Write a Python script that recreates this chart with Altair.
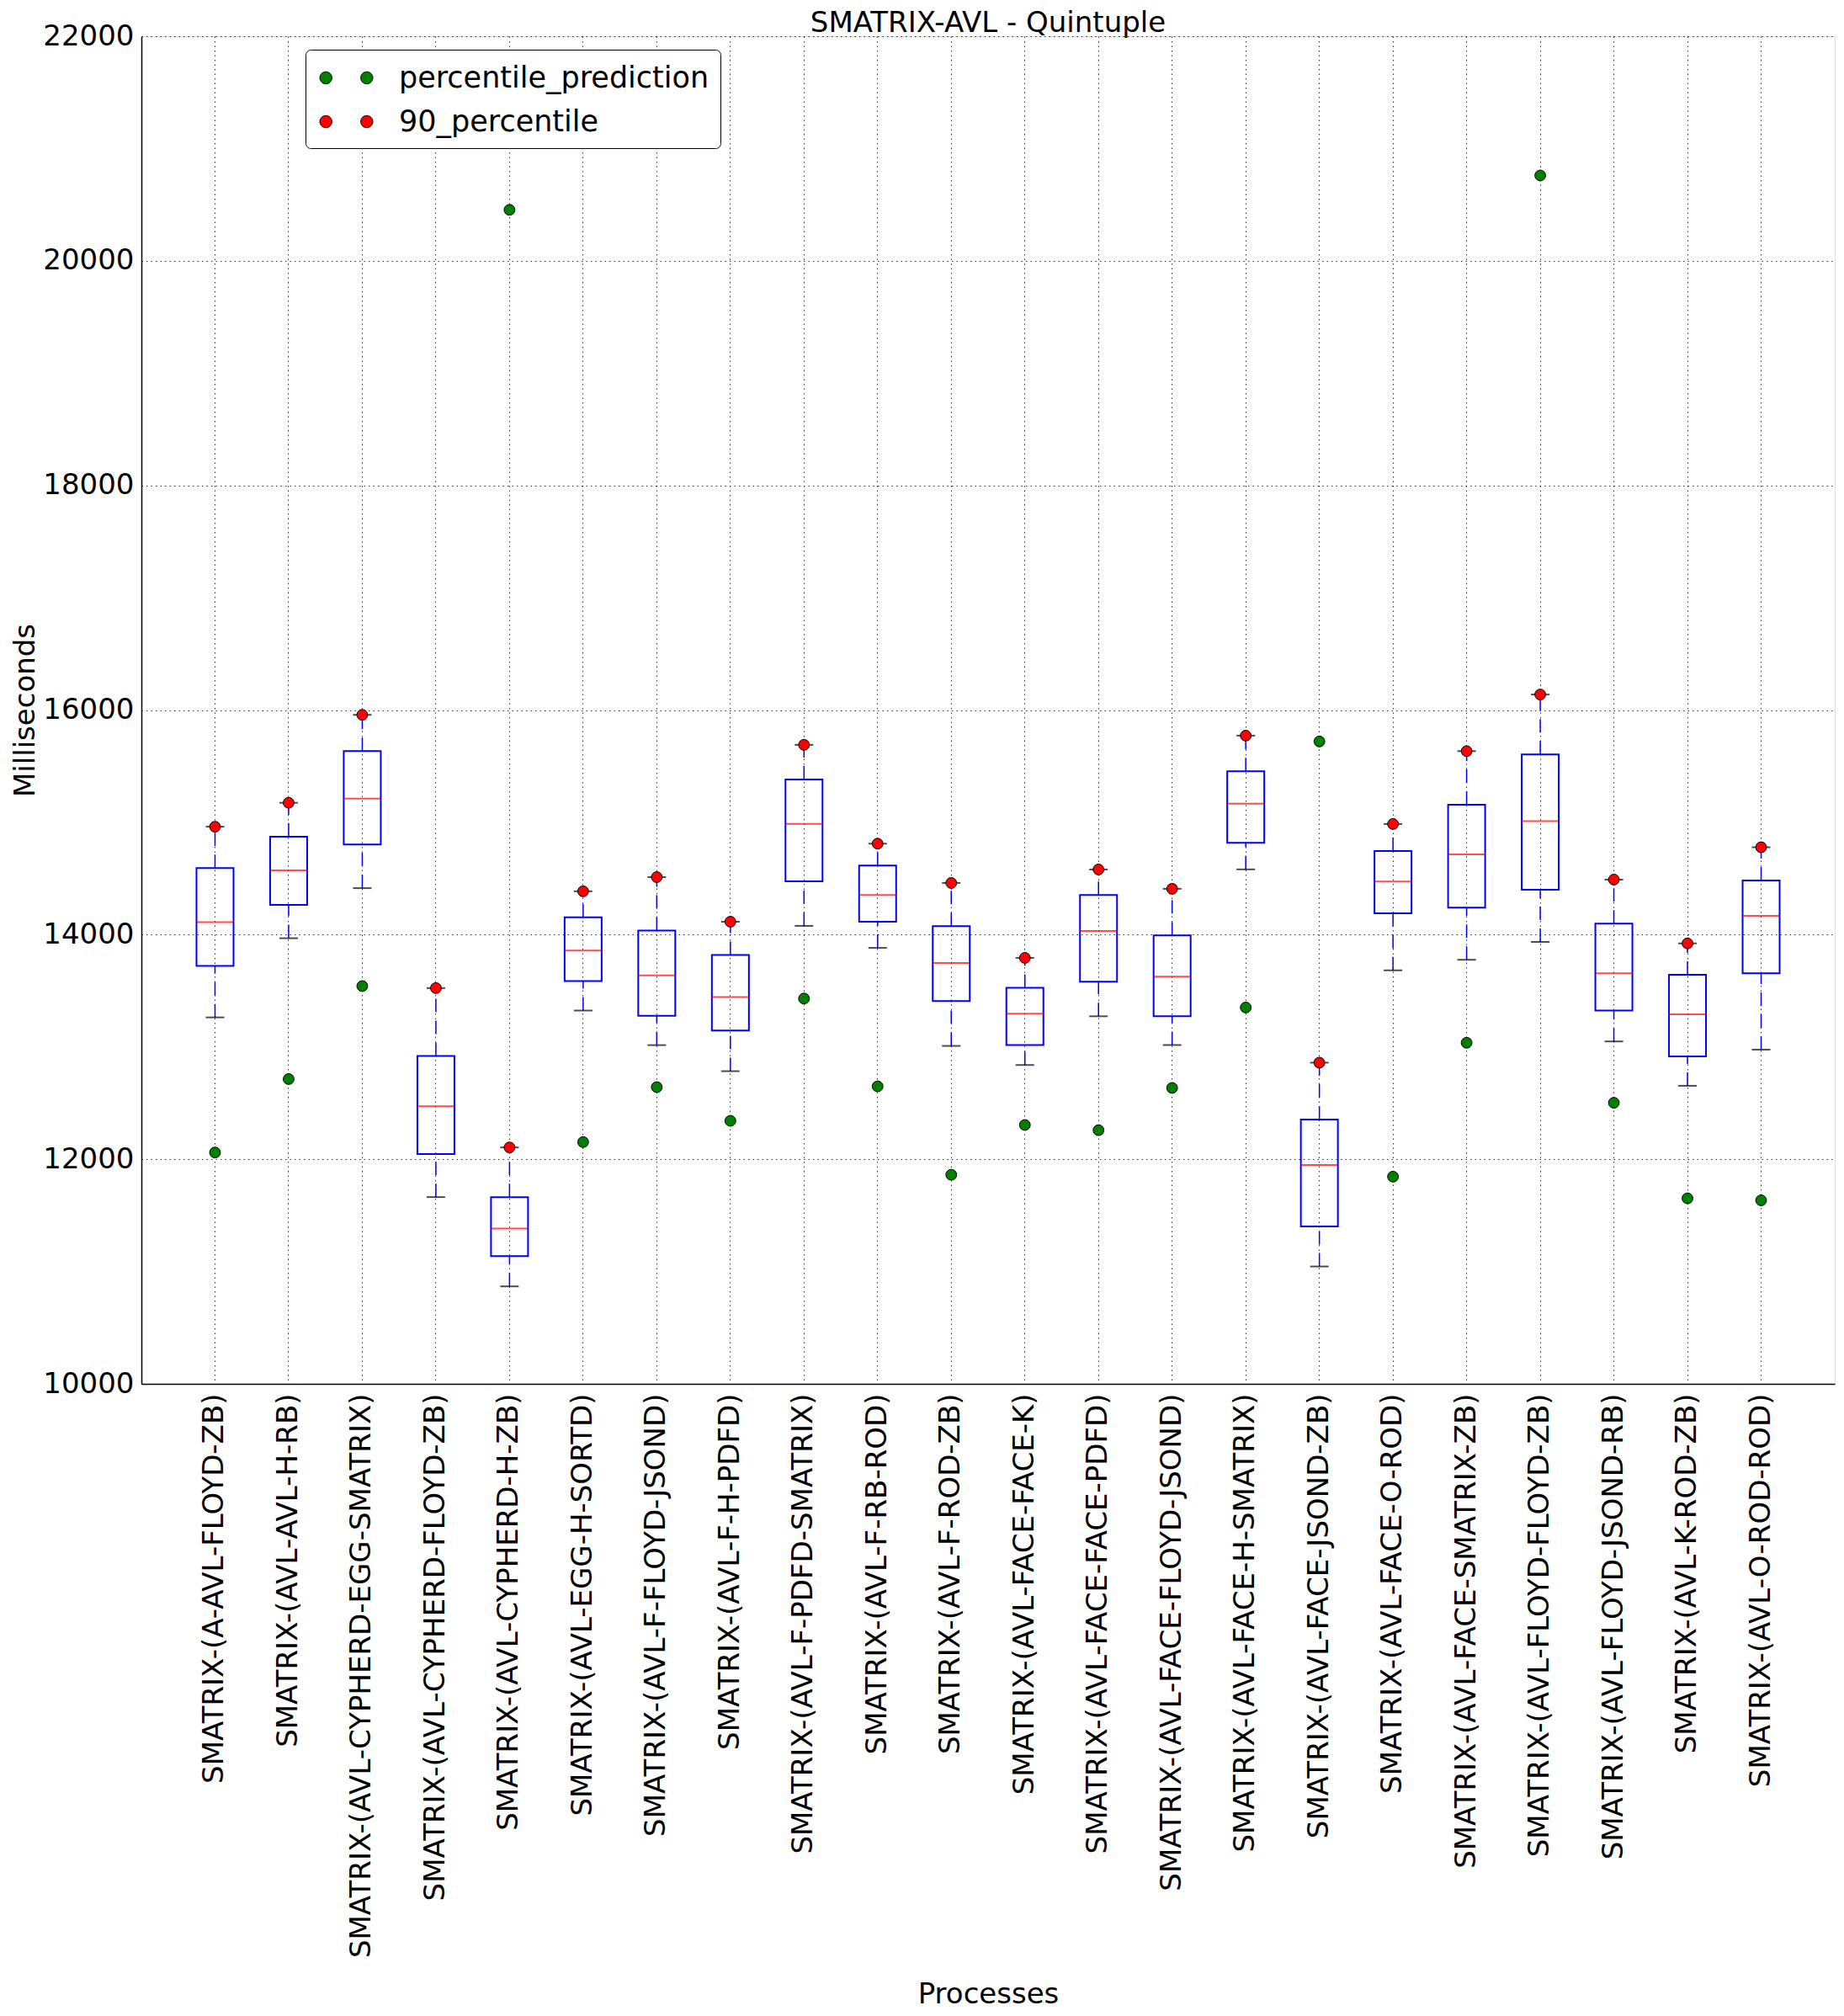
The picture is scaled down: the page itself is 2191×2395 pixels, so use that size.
import altair as alt
import pandas as pd

names = [
    "SMATRIX-(A-AVL-FLOYD-ZB)",
    "SMATRIX-(AVL-AVL-H-RB)",
    "SMATRIX-(AVL-CYPHERD-EGG-SMATRIX)",
    "SMATRIX-(AVL-CYPHERD-FLOYD-ZB)",
    "SMATRIX-(AVL-CYPHERD-H-ZB)",
    "SMATRIX-(AVL-EGG-H-SORTD)",
    "SMATRIX-(AVL-F-FLOYD-JSOND)",
    "SMATRIX-(AVL-F-H-PDFD)",
    "SMATRIX-(AVL-F-PDFD-SMATRIX)",
    "SMATRIX-(AVL-F-RB-ROD)",
    "SMATRIX-(AVL-F-ROD-ZB)",
    "SMATRIX-(AVL-FACE-FACE-K)",
    "SMATRIX-(AVL-FACE-FACE-PDFD)",
    "SMATRIX-(AVL-FACE-FLOYD-JSOND)",
    "SMATRIX-(AVL-FACE-H-SMATRIX)",
    "SMATRIX-(AVL-FACE-JSOND-ZB)",
    "SMATRIX-(AVL-FACE-O-ROD)",
    "SMATRIX-(AVL-FACE-SMATRIX-ZB)",
    "SMATRIX-(AVL-FLOYD-FLOYD-ZB)",
    "SMATRIX-(AVL-FLOYD-JSOND-RB)",
    "SMATRIX-(AVL-K-ROD-ZB)",
    "SMATRIX-(AVL-O-ROD-ROD)",
]

whisker_low = [13263, 13968, 14414, 11663, 10868, 13324, 13016, 12784, 14078, 13882, 13009,
               12839, 13273, 13017, 14581, 11045, 13682, 13776, 13935, 13049, 12654, 12976]
q1 = [13721, 14265, 14803, 12047, 11138, 13586, 13278, 13147, 14474, 14115, 13408,
      13017, 13580, 13273, 14817, 11402, 14189, 14241, 14400, 13325, 12916, 13656]
median = [14112, 14573, 15212, 12472, 11382, 13859, 13637, 13445, 14986, 14353, 13747,
          13296, 14032, 13626, 15166, 11948, 14473, 14714, 15011, 13656, 13290, 14168]
q3 = [14593, 14872, 15635, 12920, 11663, 14155, 14037, 13819, 15382, 14615, 14075,
      13526, 14353, 13994, 15454, 12353, 14744, 15157, 15604, 14099, 13643, 14482]
p90 = [14961, 15174, 15957, 13524, 12105, 14386, 14512, 14115, 15690, 14810, 14460,
       13793, 14580, 14408, 15772, 12860, 14985, 15634, 16138, 14490, 13922, 14778]
prediction = [12060, 12714, 13542, None, 20454, 12153, 12642, 12342, 13431, 12649, 11862,
              12305, 12259, 12635, 13351, 15720, 11845, 13037, 20760, 12503, 11652, 11634]

series_names = ["percentile_prediction", "90_percentile"]
series_colors = ["#008000", "#ff0000"]
y_ticks = [10000, 12000, 14000, 16000, 18000, 20000, 22000]

FONT = "DejaVu Sans"

box_df = pd.DataFrame({
    "process": names, "lo": whisker_low, "q1": q1, "med": median, "q3": q3, "hi": p90,
})

pt_rows = []
for n, v in zip(names, prediction):
    if v is not None:
        pt_rows.append({"process": n, "series": series_names[0], "value": v})
for n, v in zip(names, p90):
    pt_rows.append({"process": n, "series": series_names[1], "value": v})
pts_df = pd.DataFrame(pt_rows)

x_enc = alt.X(
    "process:N",
    sort=names,
    scale=alt.Scale(domain=names, paddingInner=0, paddingOuter=0.5),
    axis=alt.Axis(
        title="Processes", labelAngle=270, labelAlign="right", labelBaseline="middle",
        labelFontSize=34, labelFont=FONT, labelColor="black", labelPadding=11, labelLimit=2000,
        titleFontSize=34, titleFont=FONT, titleFontWeight="normal", titleColor="black",
        titleY=735, titleBaseline="alphabetic", bandPosition=0.5, grid=True,
        gridColor="black", gridDash=[1.5, 4], gridWidth=1, gridOpacity=0.8, ticks=False,
        domainColor="black", domainWidth=1.5,
    ),
)
y_scale = alt.Scale(domain=[10000, 22000], nice=False, zero=False)
y_axis = alt.Axis(
    title="Milliseconds", values=y_ticks, format="d", labelFontSize=34, labelFont=FONT,
    labelColor="black", labelPadding=9, titleFontSize=34, titleFont=FONT,
    titleFontWeight="normal", titleColor="black", titlePadding=3, grid=True,
    gridColor="black", gridDash=[1.5, 4], gridWidth=1, gridOpacity=0.8, ticks=False,
    domainColor="black", domainWidth=1.5,
)

base = alt.Chart(box_df)

lower_whisker = base.mark_rule(color="blue", strokeWidth=1.5, strokeDash=[16, 10]).encode(
    x=x_enc, y=alt.Y("lo:Q", scale=y_scale, axis=y_axis), y2="q1:Q"
)
upper_whisker = base.mark_rule(color="blue", strokeWidth=1.5, strokeDash=[16, 10]).encode(
    x=alt.X("process:N", sort=names), y=alt.Y("q3:Q"), y2="hi:Q"
)
boxes = base.mark_bar(size=44, fill="white", fillOpacity=0, stroke="blue", strokeWidth=2).encode(
    x=alt.X("process:N", sort=names), y=alt.Y("q1:Q"), y2="q3:Q"
)
medians = base.mark_tick(color="red", size=44, thickness=2).encode(
    x=alt.X("process:N", sort=names), y=alt.Y("med:Q")
)
caps_lo = base.mark_tick(color="black", size=22, thickness=2).encode(
    x=alt.X("process:N", sort=names), y=alt.Y("lo:Q")
)
caps_hi = base.mark_tick(color="black", size=22, thickness=2).encode(
    x=alt.X("process:N", sort=names), y=alt.Y("hi:Q")
)

two_dots = ("M -1.575 0 A 0.36 0.36 0 1 0 -0.855 0 A 0.36 0.36 0 1 0 -1.575 0 Z "
            "M 0.855 0 A 0.36 0.36 0 1 0 1.575 0 A 0.36 0.36 0 1 0 0.855 0 Z")

points = alt.Chart(pts_df).mark_circle(size=165, opacity=1, stroke="black", strokeWidth=1).encode(
    x=alt.X("process:N", sort=names),
    y=alt.Y("value:Q"),
    color=alt.Color(
        "series:N",
        scale=alt.Scale(domain=series_names, range=series_colors),
        legend=alt.Legend(
            title=None, orient="none", legendX=195, legendY=16, labelFontSize=35,
            labelFont=FONT, labelColor="black", symbolType=two_dots, symbolSize=1600,
            symbolStrokeColor="black", symbolStrokeWidth=1, symbolOpacity=1,
            padding=13, rowPadding=13, symbolOffset=15, labelOffset=42,
            strokeColor="black", fillColor="white", cornerRadius=6, labelLimit=2000,
        ),
    ),
)

chart = alt.layer(lower_whisker, upper_whisker, boxes, medians, caps_lo, caps_hi, points).properties(
    width=2012,
    height=1601,
    title=alt.TitleParams("SMATRIX-AVL - Quintuple", fontSize=34, font=FONT,
                          fontWeight="normal", color="black", offset=-19, anchor="middle"),
    autosize=alt.AutoSizeParams(type="none"),
    padding={"left": 160, "top": 35, "right": 3, "bottom": 745},
).configure_view(stroke="black", strokeWidth=1.5).configure(background="white")

chart.save("out.html", embed_options={"renderer": "svg", "actions": False})
